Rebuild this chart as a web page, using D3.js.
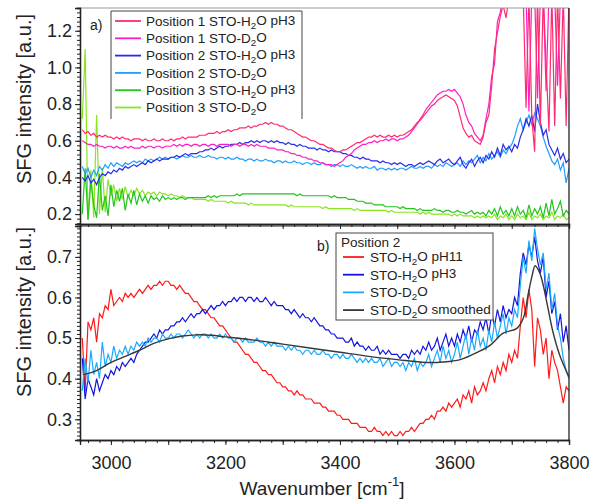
<!DOCTYPE html>
<html><head><meta charset="utf-8">
<script src="https://cdn.jsdelivr.net/npm/d3@7"></script>
<style>body{margin:0;background:#fff}svg{font-family:"Liberation Sans",Arial,sans-serif}</style>
</head><body><svg id="c" width="590" height="500"></svg>
<script>
const wavenumbers = [
2950,2955,2960,2965,2970,2975,2980,2985,2990,2995,
3000,3005,3010,3015,3020,3025,3030,3035,3040,3045,
3050,3055,3060,3065,3070,3075,3080,3085,3090,3095,
3100,3105,3110,3115,3120,3125,3130,3135,3140,3145,
3150,3155,3160,3165,3170,3175,3180,3185,3190,3195,
3200,3205,3210,3215,3220,3225,3230,3235,3240,3245,
3250,3255,3260,3265,3270,3275,3280,3285,3290,3295,
3300,3305,3310,3315,3320,3325,3330,3335,3340,3345,
3350,3355,3360,3365,3370,3375,3380,3385,3390,3395,
3400,3405,3410,3415,3420,3425,3430,3435,3440,3445,
3450,3455,3460,3465,3470,3475,3480,3485,3490,3495,
3500,3505,3510,3515,3520,3525,3530,3535,3540,3545,
3550,3555,3560,3565,3570,3575,3580,3585,3590,3595,
3600,3605,3610,3615,3620,3625,3630,3635,3640,3645,
3650,3655,3660,3665,3670,3675,3680,3685,3690,3695,
3700,3705,3710,3715,3720,3725,3730,3735,3740,3745,
3750,3755,3760,3765,3770,3775,3780,3785,3790,3795,
3800];

// Panel a)
const pos1H2O = [
0.66,0.64,0.65,0.63,0.64,0.62,0.63,0.62,0.63,0.62,
0.62,0.61,0.62,0.61,0.62,0.61,0.61,0.60,0.61,0.61,
0.61,0.60,0.61,0.60,0.60,0.61,0.60,0.60,0.61,0.60,
0.60,0.61,0.60,0.61,0.61,0.62,0.61,0.62,0.62,0.62,
0.62,0.63,0.63,0.63,0.64,0.64,0.64,0.65,0.64,0.65,
0.65,0.66,0.65,0.66,0.66,0.67,0.67,0.67,0.68,0.67,
0.68,0.68,0.69,0.69,0.70,0.69,0.70,0.69,0.69,0.68,
0.68,0.67,0.66,0.66,0.65,0.64,0.63,0.62,0.62,0.61,
0.60,0.60,0.59,0.58,0.58,0.57,0.56,0.56,0.55,0.54,
0.54,0.55,0.55,0.56,0.57,0.58,0.59,0.59,0.60,0.61,
0.62,0.62,0.63,0.62,0.63,0.62,0.62,0.63,0.62,0.63,
0.62,0.63,0.63,0.64,0.65,0.66,0.68,0.70,0.71,0.73,
0.75,0.77,0.79,0.80,0.82,0.83,0.84,0.85,0.84,0.83,
0.82,0.79,0.73,0.67,0.64,0.62,0.63,0.60,0.59,0.58,
0.62,0.70,0.74,0.90,1.10,1.19,1.28,1.34,1.27,1.38,
1.38,1.40,1.36,1.40,1.40,0.78,1.40,0.73,0.54,1.40,
0.68,1.40,1.02,0.65,1.40,0.68,1.40,0.83,1.40,0.68,
1.40];
const pos1D2O = [
0.60,0.59,0.58,0.58,0.57,0.58,0.57,0.57,0.56,0.57,
0.57,0.56,0.57,0.56,0.56,0.57,0.56,0.57,0.56,0.56,
0.56,0.57,0.56,0.57,0.57,0.56,0.57,0.57,0.56,0.57,
0.57,0.57,0.58,0.57,0.58,0.57,0.58,0.58,0.57,0.58,
0.58,0.57,0.58,0.58,0.57,0.58,0.58,0.57,0.58,0.58,
0.58,0.58,0.57,0.58,0.58,0.57,0.58,0.58,0.57,0.58,
0.57,0.58,0.57,0.57,0.57,0.56,0.56,0.56,0.55,0.55,
0.55,0.54,0.54,0.53,0.53,0.52,0.52,0.51,0.51,0.50,
0.50,0.49,0.49,0.48,0.48,0.47,0.47,0.47,0.46,0.47,
0.48,0.49,0.51,0.52,0.53,0.55,0.56,0.57,0.58,0.58,
0.59,0.59,0.60,0.59,0.60,0.60,0.61,0.60,0.61,0.61,
0.60,0.61,0.61,0.62,0.63,0.65,0.67,0.69,0.72,0.74,
0.77,0.79,0.81,0.83,0.85,0.86,0.87,0.87,0.88,0.87,
0.88,0.86,0.84,0.80,0.74,0.70,0.68,0.64,0.62,0.60,
0.63,0.72,0.80,0.95,1.02,1.25,1.30,1.40,1.40,1.36,
1.40,1.40,1.40,1.40,1.40,1.40,0.76,1.40,1.40,0.83,
1.40,1.40,0.87,1.40,1.40,1.40,0.90,1.40,1.40,1.40,
1.40];
const pos2H2O = [
0.40,0.38,0.41,0.37,0.39,0.36,0.40,0.42,0.41,0.43,
0.42,0.44,0.43,0.45,0.44,0.46,0.45,0.46,0.47,0.46,
0.47,0.48,0.47,0.49,0.48,0.49,0.50,0.49,0.50,0.50,
0.50,0.51,0.51,0.52,0.51,0.52,0.53,0.52,0.53,0.53,
0.53,0.54,0.54,0.55,0.55,0.56,0.55,0.56,0.57,0.56,
0.57,0.57,0.58,0.58,0.58,0.59,0.58,0.59,0.59,0.60,
0.59,0.60,0.59,0.60,0.60,0.59,0.60,0.59,0.60,0.59,
0.59,0.58,0.59,0.58,0.58,0.57,0.58,0.57,0.57,0.56,
0.56,0.56,0.55,0.56,0.55,0.55,0.54,0.55,0.54,0.54,
0.54,0.53,0.53,0.52,0.52,0.51,0.51,0.50,0.51,0.50,
0.50,0.49,0.49,0.49,0.48,0.49,0.48,0.48,0.47,0.48,
0.47,0.48,0.47,0.46,0.47,0.47,0.46,0.47,0.48,0.47,
0.48,0.49,0.48,0.47,0.49,0.50,0.48,0.49,0.50,0.48,
0.47,0.49,0.51,0.47,0.45,0.48,0.50,0.46,0.49,0.51,
0.48,0.52,0.50,0.54,0.51,0.56,0.52,0.58,0.55,0.57,
0.54,0.58,0.56,0.62,0.66,0.72,0.68,0.74,0.65,0.80,
0.70,0.63,0.66,0.58,0.55,0.52,0.56,0.50,0.53,0.48,
0.50];
const pos2D2O = [
0.46,0.42,0.45,0.40,0.44,0.41,0.46,0.44,0.47,0.45,
0.48,0.46,0.48,0.47,0.46,0.48,0.47,0.48,0.49,0.48,
0.49,0.48,0.50,0.49,0.50,0.49,0.50,0.51,0.50,0.51,
0.50,0.51,0.51,0.50,0.51,0.52,0.51,0.51,0.52,0.51,
0.51,0.52,0.51,0.51,0.52,0.51,0.51,0.50,0.51,0.51,
0.50,0.51,0.50,0.50,0.51,0.50,0.50,0.49,0.50,0.50,
0.49,0.50,0.49,0.49,0.50,0.49,0.49,0.48,0.49,0.49,
0.48,0.49,0.48,0.48,0.49,0.48,0.48,0.47,0.48,0.48,
0.47,0.48,0.47,0.47,0.48,0.47,0.47,0.46,0.47,0.47,
0.46,0.47,0.46,0.46,0.47,0.46,0.45,0.46,0.45,0.46,
0.45,0.45,0.46,0.44,0.45,0.45,0.44,0.45,0.44,0.45,
0.44,0.45,0.45,0.44,0.45,0.46,0.45,0.45,0.46,0.45,
0.46,0.46,0.45,0.47,0.46,0.47,0.46,0.48,0.47,0.46,
0.47,0.48,0.46,0.49,0.47,0.49,0.48,0.50,0.52,0.48,
0.51,0.49,0.53,0.50,0.52,0.54,0.51,0.55,0.53,0.56,
0.58,0.62,0.68,0.72,0.66,0.70,0.74,0.69,0.75,0.72,
0.68,0.62,0.57,0.53,0.49,0.47,0.50,0.44,0.48,0.37,
0.45];
const pos3H2O = [
0.20,0.45,0.17,0.38,0.25,0.18,0.42,0.22,0.30,0.19,
0.36,0.24,0.33,0.27,0.34,0.22,0.31,0.26,0.33,0.25,
0.31,0.27,0.30,0.26,0.30,0.28,0.29,0.27,0.30,0.28,
0.29,0.28,0.29,0.28,0.29,0.29,0.28,0.29,0.29,0.29,
0.29,0.29,0.29,0.29,0.30,0.29,0.30,0.29,0.30,0.30,
0.30,0.30,0.30,0.30,0.31,0.30,0.31,0.31,0.31,0.31,
0.31,0.31,0.31,0.31,0.31,0.31,0.31,0.31,0.31,0.31,
0.31,0.31,0.31,0.31,0.31,0.30,0.31,0.30,0.30,0.30,
0.30,0.30,0.30,0.30,0.30,0.30,0.30,0.29,0.30,0.29,
0.29,0.29,0.29,0.28,0.28,0.28,0.27,0.27,0.27,0.26,
0.26,0.26,0.25,0.25,0.25,0.25,0.24,0.24,0.24,0.24,
0.24,0.23,0.24,0.23,0.23,0.23,0.23,0.22,0.23,0.22,
0.22,0.22,0.22,0.23,0.22,0.22,0.21,0.22,0.22,0.21,
0.21,0.22,0.21,0.21,0.20,0.21,0.22,0.20,0.21,0.20,
0.21,0.19,0.22,0.20,0.23,0.19,0.24,0.20,0.22,0.19,
0.23,0.19,0.24,0.20,0.22,0.18,0.25,0.19,0.23,0.20,
0.24,0.18,0.26,0.19,0.28,0.20,0.23,0.27,0.19,0.22,
0.20];
const pos3D2O = [
0.72,1.10,0.17,0.44,0.18,0.74,0.20,0.45,0.21,0.39,
0.30,0.36,0.27,0.34,0.28,0.35,0.29,0.33,0.30,0.34,
0.31,0.33,0.30,0.32,0.31,0.32,0.30,0.32,0.31,0.31,
0.30,0.31,0.30,0.30,0.29,0.30,0.29,0.29,0.29,0.28,
0.28,0.28,0.28,0.28,0.27,0.28,0.27,0.27,0.27,0.27,
0.27,0.26,0.27,0.26,0.26,0.26,0.26,0.26,0.25,0.26,
0.25,0.25,0.25,0.25,0.25,0.25,0.25,0.25,0.25,0.25,
0.25,0.25,0.24,0.25,0.24,0.24,0.24,0.24,0.24,0.24,
0.24,0.24,0.24,0.24,0.23,0.24,0.23,0.23,0.23,0.23,
0.23,0.23,0.23,0.23,0.23,0.22,0.23,0.22,0.22,0.22,
0.22,0.22,0.22,0.22,0.22,0.22,0.22,0.21,0.22,0.21,
0.21,0.21,0.21,0.21,0.21,0.21,0.21,0.21,0.20,0.21,
0.20,0.21,0.20,0.20,0.20,0.20,0.20,0.20,0.20,0.19,
0.20,0.19,0.20,0.19,0.19,0.19,0.19,0.18,0.19,0.18,
0.19,0.18,0.19,0.18,0.20,0.17,0.19,0.18,0.20,0.17,
0.19,0.17,0.20,0.18,0.19,0.17,0.21,0.17,0.19,0.18,
0.20,0.17,0.19,0.18,0.21,0.17,0.19,0.18,0.20,0.17,
0.18];

// Panel b) Position 2
const h2oPH11 = [
0.50,0.37,0.54,0.52,0.55,0.49,0.56,0.55,0.58,0.57,
0.62,0.58,0.59,0.60,0.59,0.61,0.60,0.61,0.60,0.61,
0.62,0.61,0.62,0.63,0.62,0.63,0.63,0.64,0.63,0.64,
0.64,0.63,0.63,0.62,0.63,0.62,0.61,0.61,0.60,0.59,
0.59,0.58,0.57,0.57,0.56,0.55,0.55,0.54,0.53,0.53,
0.52,0.51,0.50,0.49,0.49,0.48,0.47,0.46,0.46,0.45,
0.44,0.44,0.43,0.42,0.42,0.41,0.41,0.40,0.39,0.39,
0.38,0.38,0.37,0.37,0.36,0.37,0.36,0.36,0.35,0.35,
0.35,0.34,0.34,0.34,0.33,0.33,0.32,0.32,0.32,0.31,
0.31,0.30,0.30,0.30,0.29,0.29,0.29,0.28,0.28,0.28,
0.27,0.27,0.28,0.27,0.27,0.26,0.27,0.26,0.27,0.26,
0.26,0.27,0.26,0.27,0.27,0.28,0.27,0.28,0.29,0.29,
0.30,0.30,0.31,0.30,0.32,0.32,0.33,0.32,0.34,0.33,
0.34,0.35,0.33,0.36,0.35,0.37,0.34,0.38,0.36,0.37,
0.39,0.37,0.40,0.42,0.39,0.43,0.41,0.44,0.42,0.46,
0.44,0.47,0.45,0.53,0.60,0.55,0.62,0.57,0.43,0.55,
0.52,0.46,0.50,0.40,0.47,0.44,0.42,0.38,0.34,0.38,
0.37];
const h2oPH3 = [
0.45,0.35,0.40,0.38,0.36,0.40,0.37,0.39,0.41,0.40,
0.42,0.41,0.43,0.42,0.44,0.43,0.44,0.45,0.44,0.46,
0.47,0.48,0.49,0.49,0.50,0.51,0.50,0.52,0.51,0.52,
0.52,0.53,0.53,0.54,0.54,0.55,0.54,0.55,0.56,0.55,
0.56,0.56,0.57,0.56,0.57,0.58,0.57,0.58,0.58,0.59,
0.58,0.59,0.59,0.60,0.59,0.60,0.60,0.59,0.60,0.60,
0.59,0.60,0.59,0.59,0.60,0.59,0.58,0.59,0.58,0.58,
0.58,0.57,0.57,0.56,0.57,0.56,0.55,0.56,0.55,0.55,
0.54,0.55,0.54,0.53,0.53,0.52,0.52,0.51,0.51,0.50,
0.50,0.50,0.49,0.49,0.50,0.48,0.49,0.48,0.48,0.47,
0.48,0.47,0.47,0.48,0.46,0.47,0.46,0.47,0.46,0.46,
0.46,0.45,0.46,0.46,0.45,0.47,0.46,0.47,0.46,0.48,
0.47,0.49,0.47,0.48,0.50,0.47,0.49,0.51,0.48,0.50,
0.48,0.51,0.49,0.52,0.50,0.53,0.49,0.52,0.51,0.54,
0.52,0.55,0.51,0.56,0.53,0.57,0.54,0.58,0.55,0.57,
0.56,0.60,0.58,0.66,0.71,0.68,0.73,0.70,0.75,0.69,
0.66,0.70,0.60,0.64,0.56,0.59,0.52,0.56,0.49,0.53,
0.47];
const d2o = [
0.37,0.45,0.39,0.47,0.41,0.44,0.40,0.49,0.43,0.46,
0.44,0.48,0.45,0.47,0.46,0.48,0.46,0.48,0.47,0.49,
0.48,0.49,0.48,0.50,0.49,0.50,0.50,0.49,0.51,0.50,
0.50,0.51,0.50,0.51,0.51,0.50,0.51,0.52,0.51,0.50,
0.51,0.50,0.51,0.51,0.50,0.51,0.50,0.50,0.51,0.50,
0.51,0.50,0.50,0.49,0.50,0.50,0.49,0.50,0.49,0.49,
0.49,0.50,0.49,0.49,0.48,0.49,0.48,0.49,0.48,0.48,
0.48,0.47,0.48,0.47,0.48,0.47,0.47,0.46,0.47,0.47,
0.46,0.47,0.46,0.46,0.47,0.46,0.46,0.45,0.46,0.46,
0.45,0.46,0.45,0.45,0.46,0.45,0.44,0.45,0.44,0.45,
0.44,0.45,0.44,0.44,0.45,0.43,0.44,0.45,0.43,0.44,
0.44,0.43,0.44,0.42,0.44,0.43,0.45,0.42,0.44,0.43,
0.44,0.46,0.43,0.45,0.47,0.44,0.48,0.45,0.47,0.44,
0.46,0.49,0.45,0.48,0.51,0.46,0.50,0.47,0.52,0.48,
0.50,0.47,0.52,0.49,0.54,0.50,0.53,0.56,0.51,0.55,
0.53,0.57,0.55,0.63,0.70,0.66,0.74,0.69,0.77,0.72,
0.68,0.71,0.62,0.66,0.57,0.61,0.53,0.50,0.45,0.42,
0.40];
const smoothWn  = [2952,2975,3000,3025,3050,3075,3100,3125,3150,3175,3200,3250,3300,3350,3400,3450,3500,3550,3580,3610,3640,3662,3685,3709,3720,3729,3735,3741,3749,3755,3761,3772,3784,3800];
const smoothVal = [0.41,0.42,0.44,0.455,0.47,0.487,0.498,0.505,0.508,0.507,0.503,0.495,0.485,0.475,0.465,0.455,0.447,0.44,0.441,0.447,0.465,0.482,0.512,0.524,0.548,0.61,0.65,0.678,0.66,0.63,0.59,0.515,0.457,0.404];

const xTickLabels = [3000,3200,3400,3600,3800];
const topYTickLabels = [0.2,0.4,0.6,0.8,1.0,1.2];
const botYTickLabels = [0.3,0.4,0.5,0.6,0.7];

const topSeries = [
  {name:"Position 1 STO-H|2|O pH3", vals:pos1H2O, color:"#ff2b6e"},
  {name:"Position 1 STO-D|2|O", vals:pos1D2O, color:"#ff1ec4"},
  {name:"Position 2 STO-H|2|O pH3", vals:pos2H2O, color:"#2a2aee"},
  {name:"Position 2 STO-D|2|O", vals:pos2D2O, color:"#1e9eff"},
  {name:"Position 3 STO-H|2|O pH3", vals:pos3H2O, color:"#22c41e"},
  {name:"Position 3 STO-D|2|O", vals:pos3D2O, color:"#8ae41e"}
];
const botSeries = [
  {name:"STO-H|2|O pH11", vals:h2oPH11, color:"#ff1a1a"},
  {name:"STO-H|2|O pH3", vals:h2oPH3, color:"#1414dc"},
  {name:"STO-D|2|O", vals:d2o, color:"#18aaff"}
];

const svg = d3.select("#c");
const L = 80, R = 569;
const topP = {t:8, b:224}, botP = {t:226, b:440};
const x = d3.scaleLinear().domain([2946, 3800]).range([L, R]);
const yT = d3.scaleLinear().domain([0.146, 1.324]).range([topP.b, topP.t]);
const yB = d3.scaleLinear().domain([0.249, 0.776]).range([botP.b, botP.t]);

const defs = svg.append("defs");
defs.append("clipPath").attr("id","clipT").append("rect").attr("x",L).attr("y",topP.t).attr("width",R-L).attr("height",topP.b-topP.t);
defs.append("clipPath").attr("id","clipB").append("rect").attr("x",L).attr("y",botP.t).attr("width",R-L).attr("height",botP.b-botP.t);

function addText(sel, str){
  const parts = str.split("|");
  parts.forEach((p,i)=>{
    if(i%2===1){ sel.append("tspan").attr("font-size","0.72em").attr("dy","0.28em").text(p); }
    else { const t = sel.append("tspan").text(p); if(i>0) t.attr("dy","-0.28em"); }
  });
}

const gT = svg.append("g").attr("clip-path","url(#clipT)");
[...topSeries].reverse().forEach(s=>{
  const line = d3.line().x((d,i)=>x(wavenumbers[i])).y(d=>yT(d));
  gT.append("path").datum(s.vals).attr("d",line).attr("fill","none").attr("stroke",s.color).attr("stroke-width",1.2);
});
const gB = svg.append("g").attr("clip-path","url(#clipB)");
botSeries.forEach(s=>{
  const line = d3.line().x((d,i)=>x(wavenumbers[i])).y(d=>yB(d));
  gB.append("path").datum(s.vals).attr("d",line).attr("fill","none").attr("stroke",s.color).attr("stroke-width",1.2);
});
gB.append("path").datum(smoothVal).attr("d", d3.line().curve(d3.curveCatmullRom).x((d,i)=>x(smoothWn[i])).y(d=>yB(d)))
  .attr("fill","none").attr("stroke","#383838").attr("stroke-width",1.4);

svg.append("line").attr("x1",L).attr("x2",R).attr("y1",topP.t).attr("y2",topP.t).attr("stroke","#999").attr("stroke-width",1);
svg.append("line").attr("x1",R).attr("x2",R).attr("y1",topP.t).attr("y2",botP.b).attr("stroke","#222").attr("stroke-width",1.3);
svg.append("line").attr("x1",L).attr("x2",R).attr("y1",botP.t).attr("y2",botP.t).attr("stroke","#222").attr("stroke-width",1.2);

function styleAxis(g){ g.select(".domain").attr("stroke","#222").attr("stroke-width",1.3); g.selectAll(".tick line").attr("stroke","#222");
  g.selectAll("text").attr("font-size","18px").attr("fill","#222").attr("font-family","Liberation Sans, Arial, sans-serif"); }

const xMinor = d3.range(2960, 3801, 20);
const xMid = d3.range(3000, 3801, 100);
[topP.b, botP.b].forEach((yy, k)=>{
  svg.append("g").attr("transform",`translate(0,${yy})`).call(d3.axisBottom(x).tickValues(xMinor).tickSize(3).tickFormat("")).call(styleAxis);
  svg.append("g").attr("transform",`translate(0,${yy})`).call(d3.axisBottom(x).tickValues(xMid).tickSize(5).tickPadding(11)
    .tickFormat(d=> (k===1 && xTickLabels.includes(d)) ? d : "")).call(styleAxis);
});
const yTMinor = d3.range(0.15, 1.33, 0.025);
svg.append("g").attr("transform",`translate(${L},0)`).call(d3.axisLeft(yT).tickValues(yTMinor).tickSize(3).tickFormat("")).call(styleAxis);
svg.append("g").attr("transform",`translate(${L},0)`).call(d3.axisLeft(yT).tickValues(topYTickLabels).tickSize(5).tickPadding(3).tickFormat(d3.format(".1f"))).call(styleAxis);
const yBMinor = d3.range(0.25, 0.776, 0.01);
svg.append("g").attr("transform",`translate(${L},0)`).call(d3.axisLeft(yB).tickValues(yBMinor).tickSize(3).tickFormat("")).call(styleAxis);
svg.append("g").attr("transform",`translate(${L},0)`).call(d3.axisLeft(yB).tickValues(botYTickLabels).tickSize(5).tickPadding(3).tickFormat(d3.format(".1f"))).call(styleAxis);

svg.append("text").attr("transform",`translate(31,99) rotate(-90)`).attr("text-anchor","middle")
  .attr("font-size","20px").attr("fill","#222").text("SFG intensity [a.u.]");
svg.append("text").attr("transform",`translate(31,312) rotate(-90)`).attr("text-anchor","middle")
  .attr("font-size","20px").attr("fill","#222").text("SFG intensity [a.u.]");
const xt = svg.append("text").attr("x",322).attr("y",495).attr("text-anchor","middle").attr("font-size","19px").attr("fill","#222");
xt.append("tspan").text("Wavenumber [cm");
xt.append("tspan").attr("font-size","13px").attr("dy","-9").text("-1");
xt.append("tspan").attr("dy","9").text("]");

svg.append("text").attr("x",90).attr("y",30).attr("font-size","14px").attr("fill","#222").text("a)");
svg.append("text").attr("x",317).attr("y",251).attr("font-size","14px").attr("fill","#222").text("b)");

const lgT = svg.append("g");
lgT.append("rect").attr("x",111).attr("y",11).attr("width",191).attr("height",108).attr("fill","#fff").attr("stroke","none");
lgT.append("path").attr("d","M111,119V11H302V119").attr("fill","none").attr("stroke","#444").attr("stroke-width",1);
topSeries.forEach((s,i)=>{
  const yy = 21 + i*17.3;
  lgT.append("line").attr("x1",115).attr("x2",141).attr("y1",yy).attr("y2",yy).attr("stroke",s.color).attr("stroke-width",1.8);
  const t = lgT.append("text").attr("x",146).attr("y",yy+4.8).attr("font-size","13.5px").attr("fill","#222");
  addText(t, s.name);
});

const lgB = svg.append("g");
lgB.append("rect").attr("x",336).attr("y",233).attr("width",157).attr("height",87).attr("fill","#fff").attr("stroke","#444").attr("stroke-width",1);
lgB.append("text").attr("x",341).attr("y",247).attr("font-size","13.5px").attr("fill","#222").text("Position 2");
const botLeg = botSeries.concat([{name:"STO-D|2|O smoothed", color:"#383838"}]);
botLeg.forEach((s,i)=>{
  const yy = 257 + i*17.7;
  lgB.append("line").attr("x1",343).attr("x2",364).attr("y1",yy).attr("y2",yy).attr("stroke",s.color).attr("stroke-width",1.8);
  const t = lgB.append("text").attr("x",370).attr("y",yy+4.8).attr("font-size","13.5px").attr("fill","#222");
  addText(t, s.name);
});
</script></body></html>
